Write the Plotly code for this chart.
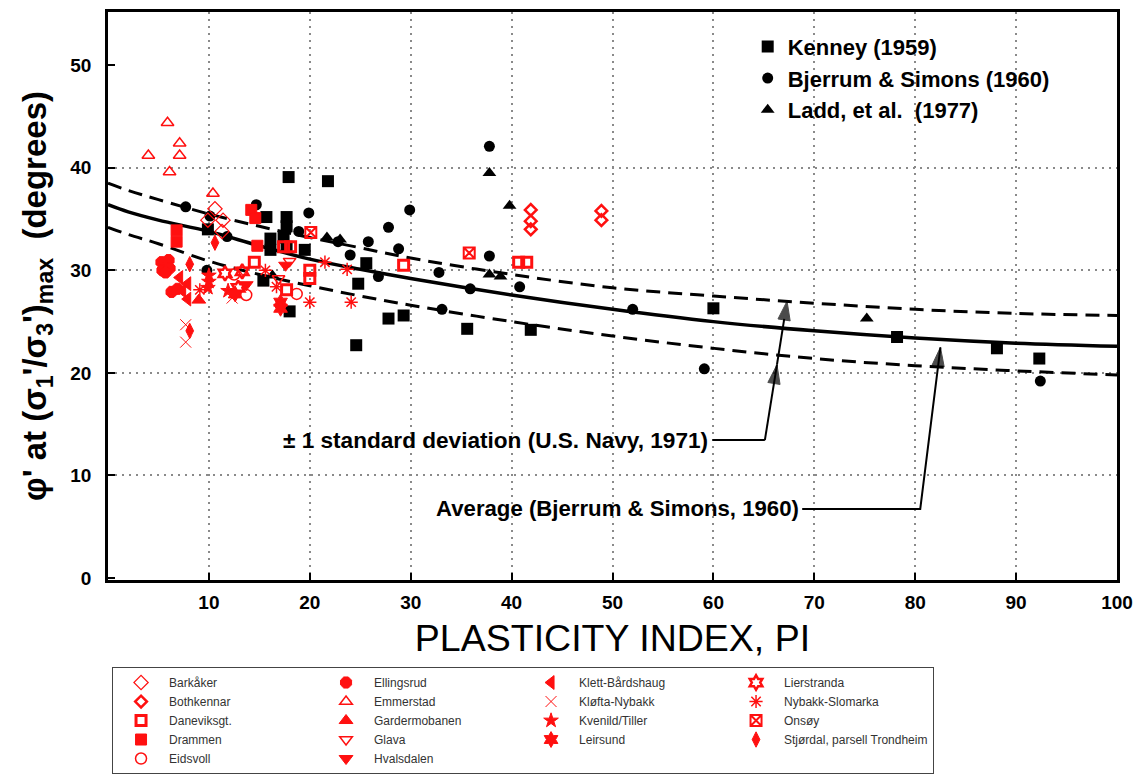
import plotly.graph_objects as go

# ---------------- data ----------------
# curves
curve_pi = [0, 2, 5, 10, 15, 20, 25, 30, 40, 50, 60, 70, 80, 90, 100]
avg_phi = [36.4, 35.7, 34.9, 33.8, 32.4, 31.1, 30.1, 29.2, 27.6, 26.2, 25.0, 24.1, 23.4, 22.9, 22.6]
upper_phi = [38.5, 37.8, 36.9, 35.5, 34.3, 33.2, 32.2, 31.2, 29.6, 28.3, 27.5, 26.8, 26.2, 25.8, 25.6]
lower_phi = [34.2, 33.5, 32.6, 30.9, 29.6, 28.5, 27.5, 26.6, 25.0, 23.6, 22.4, 21.4, 20.7, 20.2, 19.8]

# literature data (black)
kenney_pi = [17.9, 21.8, 15.7, 17.7, 17.7, 16.1, 17.4, 16.1, 19.5, 17.7, 15.4, 18.0, 24.8, 25.6,
             27.8, 29.3, 24.6, 35.6, 41.9, 60.0, 78.2, 88.1, 92.3, 9.9]
kenney_phi = [39.1, 38.7, 35.2, 35.2, 34.3, 33.1, 33.2, 32.0, 32.0, 32.3, 29.0, 26.0, 28.7, 30.7,
              25.3, 25.6, 22.7, 24.3, 24.2, 26.3, 23.5, 22.4, 21.4, 34.0]
bjerrum_pi = [7.7, 10.1, 14.7, 19.9, 18.9, 9.8, 22.8, 24.0, 25.8, 27.8, 28.8, 29.9, 37.8, 26.8,
              32.8, 37.8, 35.9, 40.8, 33.1, 52.0, 59.1, 92.4, 11.8]
bjerrum_phi = [36.2, 35.3, 36.4, 35.6, 33.8, 30.0, 32.8, 31.5, 32.8, 34.2, 32.1, 35.9, 42.1, 29.4,
               29.8, 31.4, 28.2, 28.4, 26.2, 26.2, 20.4, 19.2, 33.3]
ladd_pi = [21.7, 23.0, 37.8, 39.8, 37.8, 38.9, 75.2, 16.3]
ladd_phi = [33.2, 33.0, 39.5, 36.3, 29.6, 29.4, 25.3, 29.5]

# Norwegian / UK sites (red), (PI, phi') pairs
barkaker = [(10.6, 36.0), (11.4, 34.9), (11.3, 33.8), (9.9, 34.9)]
bothkennar = [(41.9, 35.9), (41.9, 34.8), (41.9, 34.0), (48.9, 35.8), (48.9, 34.9)]
daneviksgt = [(14.5, 30.8), (17.4, 32.3), (18.1, 32.3), (20.0, 30.0), (20.0, 29.2), (17.7, 28.1),
              (29.3, 30.5), (40.7, 30.8), (41.5, 30.8)]
drammen = [(14.2, 35.9), (14.6, 35.1), (6.8, 33.9), (6.8, 32.8), (14.8, 32.4)]
eidsvoll = [(12.5, 29.6), (13.7, 27.6), (18.7, 27.7)]
ellingsrud = [(5.3, 30.8), (6.0, 31.0), (5.4, 30.0), (6.1, 30.2), (5.7, 29.8), (6.3, 27.9), (6.9, 28.2)]
emmerstad = [(5.9, 44.4), (7.1, 42.4), (4.0, 41.2), (7.1, 41.2), (6.1, 39.6), (10.4, 37.5)]
gardermobanen = [(9.0, 27.1)]
glava = [(18.0, 30.9), (16.9, 29.2), (13.4, 30.0)]
hvalsdalen = [(13.7, 28.6), (17.6, 30.5)]
klett = [(7.1, 29.3), (7.9, 28.7), (7.4, 28.0), (7.9, 27.2)]
klofta = [(7.7, 24.7), (7.7, 23.0), (12.3, 27.3)]
kvenild = [(10.0, 29.5), (10.0, 28.9), (9.9, 28.3), (11.9, 28.0)]
leirsund = [(17.1, 26.9), (17.1, 26.3), (12.6, 27.7)]
lierstranda = [(11.6, 29.7), (13.3, 29.9), (12.9, 28.3)]
nybakk = [(9.1, 28.1), (15.6, 30.0), (16.7, 28.4), (20.0, 26.9), (21.5, 30.8), (23.7, 30.1), (24.1, 26.9)]
onsoy = [(35.8, 31.7), (20.1, 33.7)]
stjordal = [(8.1, 30.6), (8.1, 24.1), (10.6, 32.7)]

x_ticks = [10, 20, 30, 40, 50, 60, 70, 80, 90, 100]
y_ticks = [0, 10, 20, 30, 40, 50]
y_grid = [10, 20, 30, 40]

# leader lines of the two call-outs (data coordinates), last points are arrow tips
std_label = (17.1, 13.45)
std_leader_x = [59.9, 65.1, 66.3, 67.3]
std_leader_y = [13.45, 13.45, 20.8, 27.0]
std_head = [0, 0, 20, 20]
avg_label = (32.3, 6.73)
avg_leader_x = [68.8, 80.5, 82.5]
avg_leader_y = [6.73, 6.73, 22.5]
avg_head = [0, 0, 20]

FONT = "Liberation Sans, Arial, Helvetica, sans-serif"
RED = "#ff1010"

fig = go.Figure()

# curves
fig.add_trace(go.Scatter(x=curve_pi, y=upper_phi, mode="lines", showlegend=False,
                         line=dict(color="black", width=3, dash="14px,8px", shape="spline")))
fig.add_trace(go.Scatter(x=curve_pi, y=lower_phi, mode="lines", showlegend=False,
                         line=dict(color="black", width=3, dash="14px,8px", shape="spline")))
fig.add_trace(go.Scatter(x=curve_pi, y=avg_phi, mode="lines", showlegend=False,
                         line=dict(color="black", width=3.5, shape="spline")))

# black literature points
fig.add_trace(go.Scatter(x=kenney_pi, y=kenney_phi, mode="markers", name="Kenney (1959)",
                         legend="legend", marker=dict(symbol="square", size=12, color="black")))
fig.add_trace(go.Scatter(x=bjerrum_pi, y=bjerrum_phi, mode="markers", name="Bjerrum & Simons (1960)",
                         legend="legend", marker=dict(symbol="circle", size=11, color="black")))
fig.add_trace(go.Scatter(x=ladd_pi, y=ladd_phi, mode="markers", name="Ladd, et al.  (1977)",
                         legend="legend", marker=dict(symbol="triangle-up", size=12, color="black")))

# red sites: listed in row order of the 4-column legend
sites = [
    ("Barkåker", barkaker, "diamond-open", 11, 1.2),
    ("Ellingsrud", ellingsrud, "octagon", 12, 1),
    ("Klett-Bårdshaug", klett, "triangle-left", 12, 1),
    ("Lierstranda", lierstranda, "hexagram-open", 11, 2.5),
    ("Bothkennar", bothkennar, "diamond-open", 9, 2.5),
    ("Emmerstad", emmerstad, "triangle-up-open", 11, 1.5),
    ("Kløfta-Nybakk", klofta, "x-thin-open", 11, 1),
    ("Nybakk-Slomarka", nybakk, "asterisk-open", 11, 1.5),
    ("Daneviksgt.", daneviksgt, "square-open", 10, 3),
    ("Gardermobanen", gardermobanen, "triangle-up", 12, 1),
    ("Kvenild/Tiller", kvenild, "star", 11, 1),
    ("Onsøy", onsoy, "square-x-open", 11, 2),
    ("Drammen", drammen, "square", 11, 1),
    ("Glava", glava, "triangle-down-open", 11, 1.5),
    ("Leirsund", leirsund, "hexagram", 12, 1),
    ("Stjørdal, parsell Trondheim", stjordal, "diamond-tall", 11, 1),
    ("Eidsvoll", eidsvoll, "circle-open", 11, 1.5),
    ("Hvalsdalen", hvalsdalen, "triangle-down", 12, 1),
]
for name, pts, sym, size, lw in sites:
    fig.add_trace(go.Scatter(
        x=[p[0] for p in pts], y=[p[1] for p in pts], mode="markers", name=name,
        legend="legend2",
        marker=dict(symbol=sym, size=size, color=RED, line=dict(color=RED, width=lw)),
    ))

# leader lines with arrow heads
for lx, ly, heads in ((std_leader_x, std_leader_y, std_head), (avg_leader_x, avg_leader_y, avg_head)):
    fig.add_trace(go.Scatter(
        x=lx, y=ly, mode="lines+markers", showlegend=False, hoverinfo="skip",
        line=dict(color="black", width=2),
        marker=dict(symbol="arrow", size=heads, angleref="previous", color="black",
                    line=dict(width=1, color="black")),
    ))

# invisible trace on helper axis carrying the horizontal grid
fig.add_trace(go.Scatter(x=[50], y=[0], yaxis="y2", mode="markers", showlegend=False,
                         marker=dict(opacity=0), hoverinfo="skip"))

fig.add_annotation(x=std_label[0], y=std_label[1], xref="x", yref="y", xanchor="left",
                   yanchor="middle", showarrow=False,
                   text="± 1 standard deviation (U.S. Navy, 1971)",
                   font=dict(family=FONT, size=22.6, color="black", weight="bold"))
fig.add_annotation(x=avg_label[0], y=avg_label[1], xref="x", yref="y", xanchor="left",
                   yanchor="middle", showarrow=False,
                   text="Average (Bjerrum & Simons, 1960)",
                   font=dict(family=FONT, size=22.2, color="black", weight="bold"))

grid_style = dict(gridcolor="#8a8a8a", gridwidth=2, griddash="2px,5px")

fig.update_layout(
    width=1142, height=776,
    margin=dict(l=108, r=25, t=12, b=196, autoexpand=False),
    paper_bgcolor="white", plot_bgcolor="white",
    font=dict(family=FONT, color="black"),
    xaxis=dict(
        range=[0, 100], tickvals=x_ticks, ticktext=[str(v) for v in x_ticks],
        ticks="inside", ticklen=7, tickwidth=2, tickcolor="black",
        showline=True, linecolor="black", linewidth=2.5, mirror=True,
        showgrid=True, **grid_style, zeroline=False,
        tickfont=dict(family=FONT, size=19, weight="bold"), ticklabelstandoff=3,
        title=dict(text="PLASTICITY INDEX, PI", font=dict(family=FONT, size=37.5), standoff=14),
    ),
    yaxis=dict(
        range=[-0.2, 55.2], tickvals=y_ticks, ticktext=[str(v) for v in y_ticks],
        ticks="inside", ticklen=7, tickwidth=2, tickcolor="black",
        showline=True, linecolor="black", linewidth=2.5, mirror=True,
        showgrid=False, zeroline=False,
        tickfont=dict(family=FONT, size=19, weight="bold"), ticklabelstandoff=10,
        title=dict(text="φ' at (σ<sub>1</sub>'/σ<sub>3</sub>')<sub>max</sub>  (degrees)",
                   font=dict(family=FONT, size=33, weight="bold"), standoff=14),
    ),
    yaxis2=dict(
        range=[-0.2, 55.2], overlaying="y", side="left", tickvals=y_grid,
        showticklabels=False, ticks="", showline=False, zeroline=False,
        showgrid=True, **grid_style,
    ),
    legend=dict(
        x=0.634, y=0.976, xanchor="left", yanchor="top", bgcolor="rgba(0,0,0,0)",
        borderwidth=0, itemwidth=30, traceorder="normal",
        font=dict(family=FONT, size=22, color="black", weight="bold"),
    ),
    legend2=dict(
        orientation="h", x=0.004, y=-0.1532, xanchor="left", yanchor="top",
        bgcolor="white", bordercolor="#444", borderwidth=1,
        itemwidth=46, entrywidth=144, entrywidthmode="pixels", traceorder="normal",
        font=dict(family=FONT, size=12, color="#333"),
    ),
)

fig.write_html("out.html", config={"displayModeBar": False},
               post_script="document.body.style.margin='0px';")
